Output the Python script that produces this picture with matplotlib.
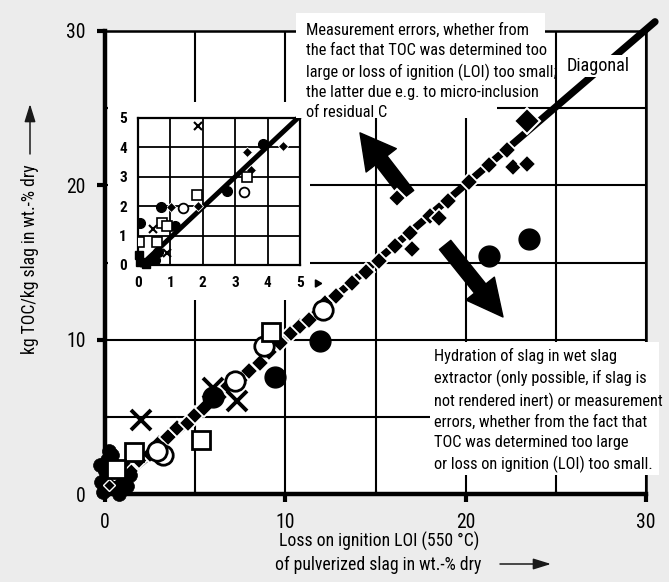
import numpy as np
import matplotlib
matplotlib.use("Agg")
import matplotlib.pyplot as plt
from matplotlib import font_manager as fm
from matplotlib.patches import Rectangle

names = {f.name for f in fm.fontManager.ttflist}
if 'Roboto Condensed' in names:
    FONT, K, LS = 'Roboto Condensed', 0.94, 1.41
elif 'Liberation Sans Narrow' in names:
    FONT, K, LS = 'Liberation Sans Narrow', 1.0, 1.45
else:
    FONT, K, LS = 'Liberation Sans', 0.81, 1.6
plt.rcParams['font.family'] = [FONT, 'DejaVu Sans']

# ---------------- data ----------------
x_ticks = [0, 10, 20, 30]
y_ticks = [0, 10, 20, 30]

# main chart: filled diamonds (mostly along diagonal)
fd_x = [0.8, 1.4, 1.9, 2.5, 3.0, 3.5, 4.0, 4.6, 5.0, 5.5, 6.3, 6.8, 7.5, 8.0, 8.6, 9.1, 9.7,
        10.3, 10.8, 11.3, 12.2, 12.8, 13.7, 14.5, 15.2, 16.1, 16.9, 18.0, 19.0, 20.2, 21.3,
        22.3, 22.6, 23.4, 18.5, 17.0]
fd_y = [1.1, 1.5, 2.2, 2.6, 3.3, 3.7, 4.3, 4.6, 5.1, 5.6, 6.3, 7.0, 7.4, 8.0, 8.5, 9.2, 9.8,
        10.4, 10.9, 11.3, 12.4, 12.8, 13.7, 14.4, 15.1, 16.1, 16.9, 18.0, 19.0, 20.2, 21.3,
        22.3, 21.2, 21.4, 17.9, 15.9]
big_d_x = [23.4]
big_d_y = [24.2]
arrow_d_x = [16.2]
arrow_d_y = [19.2]
# filled circles
fc_x = [11.9, 9.4, 6.0, 21.3, 23.5]
fc_y = [9.9, 7.6, 6.3, 15.45, 16.5]
# dense cluster near origin
cl_x = [0.1, 0.0, 0.3, 0.6, 0.9, 0.1, 1.2, 0.5, -0.2, 0.8, -0.3, 0.4, 1.0, 0.2, -0.1, 0.7,
        1.4, 0.3]
cl_y = [0.3, 1.5, 1.0, 0.4, 1.2, 2.2, 0.5, 1.9, 0.8, 0.0, 1.9, 2.5, 1.7, 2.8, 0.1, 0.9,
        1.2, 0.5]
# white-edged diamonds inside the origin cluster
cld_x = [0.5, 1.1, 0.2]
cld_y = [1.3, 2.0, 0.6]
# open circles
oc_x = [12.1, 8.8, 7.2, 3.2, 2.9]
oc_y = [11.9, 9.6, 7.3, 2.5, 2.8]
# open squares
os_x = [9.2, 5.3, 1.6, 0.6]
os_y = [10.5, 3.5, 2.7, 1.6]
# crosses
cr_x = [2.0, 7.3, 6.0]
cr_y = [4.8, 6.0, 6.9]

# inset (0-5)
in_ticks = [0, 1, 2, 3, 4, 5]
ifd_x = [3.37, 3.48, 4.48, 1.01, 1.85]
ifd_y = [3.83, 3.23, 4.05, 1.96, 2.0]
ifc_x = [0.06, 0.70, 1.14, 2.76, 3.87, 0.63, 0.52]
ifc_y = [1.42, 1.96, 1.33, 2.53, 4.12, 0.45, 0.17]
ioc_x = [1.40, 3.27]
ioc_y = [1.93, 2.49]
ios_x = [1.81, 0.73, 0.88, 3.35, 0.04, 0.58]
ios_y = [2.38, 1.42, 1.33, 3.0, 0.79, 0.79]
icr_x = [1.86, 0.47, 0.88]
icr_y = [4.73, 1.21, 0.40]
ifs_x = [0.02, 0.05, 0.25]
ifs_y = [0.34, 0.10, 0.05]

top_text = ("Measurement errors, whether from\nthe fact that TOC was determined too\n"
            "large or loss of ignition (LOI) too small;\nthe latter due e.g. to micro-inclusion\n"
            "of residual C")
bottom_text = ("Hydration of slag in wet slag\nextractor (only possible, if slag is\n"
               "not rendered inert) or measurement\nerrors, whether from the fact that\n"
               "TOC was determined too large\nor loss on ignition (LOI) too small.")
diag_label = "Diagonal"
x_label_1 = "Loss on ignition LOI (550 °C)"
x_label_2 = "of pulverized slag in wt.-% dry"
y_label = "kg TOC/kg slag in wt.-% dry"

# ---------------- figure ----------------
W, H = 669, 582
fig = plt.figure(figsize=(W / 100, H / 100), dpi=100, facecolor='#ececec')


def fx(px):
    return px / W


def fy(py):
    return 1 - py / H


ax = fig.add_axes([fx(105), fy(494), (646 - 105) / W, (494 - 31) / H])
ax.set_facecolor('white')
ax.set_xlim(0, 30)
ax.set_ylim(0, 30)
ax.set_xticks(x_ticks)
ax.set_yticks(y_ticks)
ax.set_xticks([5, 15, 25], minor=True)
ax.set_yticks([5, 15, 25], minor=True)
ax.set_axisbelow(True)
ax.grid(True, which='both', color='black', lw=1.5)
ax.tick_params(which='major', direction='out', length=6, width=3, labelsize=15 * K, pad=8)
ax.tick_params(which='minor', direction='in', length=3, width=1.5)
for s, w in (('left', 3.2), ('bottom', 3.2), ('top', 1.8), ('right', 1.8)):
    ax.spines[s].set_linewidth(w)
    ax.spines[s].set_color('black')

# white patch behind inset
ax.add_patch(Rectangle((0.15, 12.6), 11.2, 12.8, facecolor='white', edgecolor='none', zorder=1.5))

# diagonal
ax.plot([0, 30.5], [0, 30.6], color='black', lw=5.2, solid_capstyle='round', zorder=2,
        clip_on=False)

# arrows
ax.annotate('', xy=(14.14, 23.4), xytext=(16.8, 19.38),
            arrowprops=dict(arrowstyle='simple,head_length=1.0,head_width=1.1,tail_width=0.42',
                            mutation_scale=25, fc='black', ec='black', shrinkA=0, shrinkB=0),
            zorder=2.5)
ax.annotate('', xy=(22.07, 11.47), xytext=(18.86, 16.14),
            arrowprops=dict(arrowstyle='simple,head_length=1.05,head_width=1.05,tail_width=0.42',
                            mutation_scale=25, fc='black', ec='black', shrinkA=0, shrinkB=0),
            zorder=2.5)

ax.plot(fd_x, fd_y, 'D', ms=9.5, mfc='black', mec='white', mew=1.3, zorder=3, clip_on=False)
ax.plot(big_d_x, big_d_y, 'D', ms=13, mfc='black', mec='white', mew=1.5, zorder=3)
ax.plot(arrow_d_x, arrow_d_y, 'D', ms=9, mfc='black', mec='white', mew=1.5, zorder=4)
ax.plot(cl_x, cl_y, 'o', ms=10, mfc='black', mec='black', mew=0.5, zorder=3, clip_on=False)
ax.plot(cld_x, cld_y, 'D', ms=6, mfc='black', mec='white', mew=1.0, zorder=3.1, clip_on=False)
ax.plot(fc_x, fc_y, 'o', ms=15, mfc='black', mec='black', zorder=3)
ax.plot(oc_x, oc_y, 'o', ms=14, mfc='white', mec='black', mew=2, zorder=3.2)
ax.plot(os_x, os_y, 's', ms=13, mfc='white', mec='black', mew=2, zorder=3.2)
ax.plot(cr_x, cr_y, 'x', ms=15, mec='black', mew=2.8, zorder=3.2)

# ---------------- inset ----------------
ia = fig.add_axes([fx(138), fy(265), (300 - 138) / W, (265 - 118) / H])
ia.set_facecolor('white')
ia.set_xlim(0, 5)
ia.set_ylim(0, 5)
ia.set_xticks(in_ticks)
ia.set_yticks(in_ticks)
ia.set_axisbelow(True)
ia.grid(True, color='black', lw=1.3)
ia.tick_params(length=0, pad=8, labelsize=11)
for lab in ia.get_xticklabels() + ia.get_yticklabels():
    lab.set_fontweight('bold')
for s in ia.spines.values():
    s.set_linewidth(1.6)
ia.plot([0.1, 5.03], [0.0, 5.1], color='black', lw=3.6, zorder=2, clip_on=False,
        solid_capstyle='round')
ia.plot(ifd_x, ifd_y, 'D', ms=5.5, mfc='black', mec='white', mew=0.6, zorder=3)
ia.plot(ifc_x, ifc_y, 'o', ms=7, mfc='black', mec='black', zorder=3)
ia.plot(ifs_x, ifs_y, 's', ms=6, mfc='black', mec='black', zorder=3, clip_on=False)
ia.plot(ioc_x, ioc_y, 'o', ms=7, mfc='white', mec='black', mew=1.3, zorder=3.2)
ia.plot(ios_x, ios_y, 's', ms=6.5, mfc='white', mec='black', mew=1.2, zorder=3.2)
ia.plot(icr_x, icr_y, 'x', ms=6, mec='black', mew=1.5, zorder=3.2)
ia.plot([5.52], [-0.61], marker=(3, 0, -90), ms=6, color='black', clip_on=False)

# ---------------- white boxes and texts ----------------
def wbox(x0, y0, x1, y1, z=4):
    fig.add_artist(Rectangle((fx(x0), fy(y1)), (x1 - x0) / W, (y1 - y0) / H,
                             transform=fig.transFigure, facecolor='white',
                             edgecolor='none', zorder=z))


wbox(296, 13, 545, 104)
wbox(296, 103, 497, 118)
wbox(430, 342, 659, 475)
wbox(560, 55, 640, 77)

fig.text(fx(306), fy(71.5), top_text, ha='left', va='center', fontsize=12.5 * K,
         linespacing=LS, zorder=5)
fig.text(fx(434), fy(410.5), bottom_text, ha='left', va='center', fontsize=12.5 * K,
         linespacing=LS, zorder=5)
fig.text(fx(567), fy(66), diag_label, ha='left', va='center', fontsize=14 * K, zorder=5)

fig.text(fx(379), fy(541), x_label_1, ha='center', va='center', fontsize=13.5 * K)
fig.text(fx(378), fy(565), x_label_2, ha='center', va='center', fontsize=13.5 * K)
fig.text(fx(30), fy(259), y_label, rotation=90, ha='center', va='center', fontsize=13.5 * K)

ax.annotate('', xy=(551, H - 564), xytext=(500, H - 564), xycoords='figure pixels',
            textcoords='figure pixels', annotation_clip=False,
            arrowprops=dict(arrowstyle='-|>,head_length=0.9,head_width=0.28', lw=1.1,
                            color='#1a1a1a', mutation_scale=12, shrinkA=0, shrinkB=0))
ax.annotate('', xy=(30, H - 104), xytext=(30, H - 154), xycoords='figure pixels',
            textcoords='figure pixels', annotation_clip=False,
            arrowprops=dict(arrowstyle='-|>,head_length=0.9,head_width=0.28', lw=1.1,
                            color='#1a1a1a', mutation_scale=12, shrinkA=0, shrinkB=0))

fig.savefig('out.png', dpi=100, facecolor=fig.get_facecolor())
